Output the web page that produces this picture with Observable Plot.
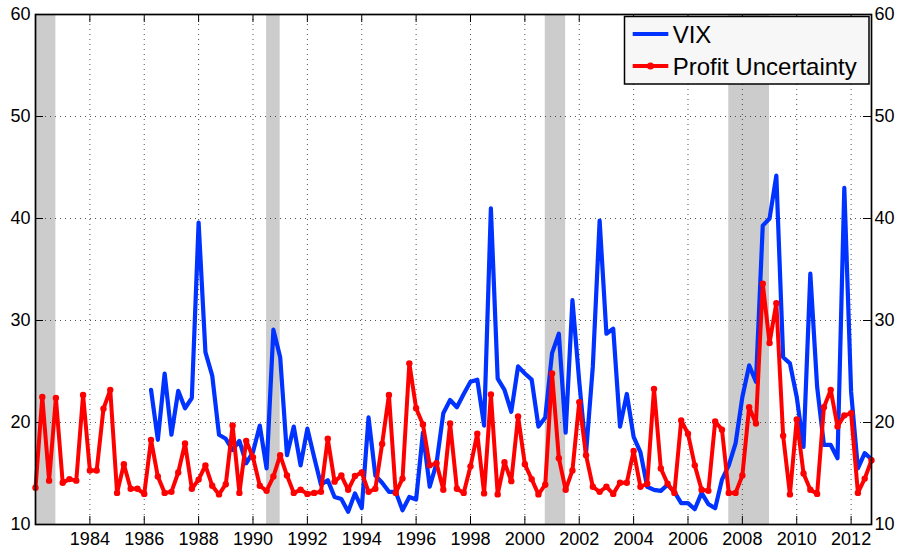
<!DOCTYPE html>
<html><head><meta charset="utf-8">
<script src="https://cdn.jsdelivr.net/npm/d3@7"></script>
<script src="https://cdn.jsdelivr.net/npm/@observablehq/plot@0.6"></script>
<style>
body{margin:0;background:#fff;}
#wrap{position:relative;width:900px;height:548px;font-family:"Liberation Sans",Arial,sans-serif;}
#wrap svg{display:block;}
#legend{position:absolute;left:0;top:0;pointer-events:none;}
</style></head><body><div id="wrap"></div>
<script>
// ---- data ----
const xDomain = [1982, 2012.75];
const yDomain = [10, 60];
const xTicks = [1984, 1986, 1988, 1990, 1992, 1994, 1996, 1998, 2000, 2002, 2004, 2006, 2008, 2010, 2012];
const yTicks = [10, 20, 30, 40, 50, 60];
const recessions = [[1982.0, 1982.75], [1990.5, 1991.0], [2000.75, 2001.5], [2007.5, 2009.0]];
const seriesNames = ["VIX", "Profit Uncertainty"];

// quarterly, starting 1982 Q1
const puStart = 1982.0;
const puValues = [
  13.6, 22.5, 14.3, 22.4,
  14.1, 14.45, 14.3, 22.7,
  15.3, 15.3, 21.35, 23.2,
  13.1, 15.9, 13.5, 13.5,
  13.0, 18.3, 14.7, 13.1,
  13.2, 15.1, 17.95, 13.5,
  14.4, 15.8, 13.8, 12.95,
  13.95, 19.7, 13.1, 18.2,
  16.6, 13.8, 13.3, 14.7,
  16.8, 14.8, 13.1, 13.4,
  13.0, 13.1, 13.2, 18.4,
  14.2, 14.8, 13.4, 14.75,
  15.1, 13.2, 13.5, 17.9,
  22.7, 13.1, 14.5, 25.8,
  21.4, 19.8, 15.8, 16.0,
  13.4, 19.9, 13.5, 13.1,
  15.7, 18.9, 13.05, 22.75,
  12.95, 16.1, 14.25, 20.6,
  15.9, 14.45, 12.95, 13.9,
  24.8, 16.5, 13.4, 15.3,
  22.0, 16.8, 13.7, 13.2,
  13.7, 13.0, 14.1, 14.1,
  17.2, 13.7, 14.0, 23.3,
  15.5, 14.0, 13.1, 20.2,
  18.9, 15.8, 13.4, 13.3,
  20.1, 19.3, 13.1, 13.1,
  14.8, 21.5, 19.9, 33.6,
  27.8, 31.7, 18.7, 12.95,
  20.3, 15.0, 13.4, 13.0,
  21.5, 23.2, 19.6, 20.7,
  20.9, 13.1, 14.5, 16.3
];

// quarterly, starting 1986 Q2
const vixStart = 1986.25;
const vixValues = [
  23.2, 18.3, 24.8,
  18.8, 23.1, 21.4, 22.4,
  39.6, 26.9, 24.6, 18.8,
  18.4, 17.3, 18.2, 16.0,
  17.1, 19.7, 15.5, 29.1,
  26.4, 16.8, 19.6, 15.8,
  19.4, 16.6, 13.9, 14.35,
  12.7, 12.5, 11.25, 13.05,
  11.6, 20.5, 14.8, 14.1,
  13.2, 13.2, 11.4, 12.7,
  12.45, 19.0, 13.7, 16.0,
  20.9, 22.2, 21.5, 22.8,
  24.0, 24.2, 19.7, 41.0,
  24.3, 23.2, 21.05, 25.5,
  24.8, 24.2, 19.6, 20.5,
  26.8, 28.7, 19.0, 32.0,
  24.0, 17.0, 25.5, 39.8,
  28.7, 29.2, 19.6, 22.8,
  18.6, 17.1, 13.7, 13.4,
  13.3, 13.9, 13.2, 12.1,
  12.1, 11.5, 13.1, 12.0,
  11.6, 14.4, 15.8, 17.95,
  22.5, 25.6, 24.0, 39.3,
  40.0, 44.2, 26.4, 25.8,
  22.5, 17.6, 34.6, 23.5,
  17.8, 17.8, 16.5, 43.0,
  23.0, 15.5, 17.0, 16.4
];

// ---- build ----
const pu = puValues.map((v, i) => ({t: puStart + i * 0.25, v}));
const vix = vixValues.map((v, i) => ({t: vixStart + i * 0.25, v}));

const W = 900, H = 548;
const mL = 35, mR = 29, mT = 14, mB = 24;
const frameW = W - mL - mR, frameH = H - mT - mB;
const tickLen = 8;
const blue = "#0033ff", red = "#ff0000";
const gridStyle = {stroke: "#333", strokeOpacity: 0.85, strokeDasharray: "1,4", strokeWidth: 1};

const chart = Plot.plot({
  width: W, height: H,
  marginLeft: mL, marginRight: mR, marginTop: mT, marginBottom: mB,
  style: {fontFamily: "'Liberation Sans', Arial, sans-serif", fontSize: "18px", background: "#fff", color: "#000", overflow: "visible"},
  x: {domain: xDomain, label: null},
  y: {domain: yDomain, label: null},
  marks: [
    Plot.rect(recessions, {x1: d => d[0], x2: d => d[1], fill: "#cccccc"}),
    Plot.gridX(xTicks, gridStyle),
    Plot.gridY(yTicks, gridStyle),
    Plot.tickX(xTicks, {x: d => d, insetTop: frameH - tickLen, stroke: "#000", strokeWidth: 1}),
    Plot.tickX(xTicks, {x: d => d, insetBottom: frameH - tickLen, stroke: "#000", strokeWidth: 1}),
    Plot.tickY(yTicks, {y: d => d, insetRight: frameW - tickLen, stroke: "#000", strokeWidth: 1}),
    Plot.tickY(yTicks, {y: d => d, insetLeft: frameW - tickLen, stroke: "#000", strokeWidth: 1}),
    Plot.axisX(xTicks, {anchor: "bottom", label: null, tickSize: 0, tickPadding: 8, tickFormat: d => String(d), fontSize: 18}),
    Plot.axisY(yTicks, {anchor: "left", label: null, tickSize: 0, tickPadding: 5, tickFormat: d => String(d), fontSize: 18}),
    Plot.axisY(yTicks, {anchor: "right", label: null, tickSize: 0, tickPadding: 3, tickFormat: d => String(d), fontSize: 18}),
    Plot.line(vix, {x: "t", y: "v", stroke: blue, strokeWidth: 4.2, strokeLinejoin: "round", strokeLinecap: "round"}),
    Plot.line(pu, {x: "t", y: "v", stroke: red, strokeWidth: 4, strokeLinejoin: "round", strokeLinecap: "round"}),
    Plot.dot(pu, {x: "t", y: "v", r: 3.2, fill: red, stroke: "none"}),
    Plot.frame({stroke: "#000", strokeWidth: 1.7})
  ]
});
const wrap = document.getElementById("wrap");
wrap.appendChild(chart);

// ---- legend (overlay) ----
const lg = d3.select(wrap).append("svg").attr("id", "legend").attr("width", W).attr("height", H);
const box = {x: 624.5, y: 16.5, w: 244.5, h: 67.5};
lg.append("rect").attr("x", box.x).attr("y", box.y).attr("width", box.w).attr("height", box.h)
  .attr("fill", "#f7f7f7").attr("stroke", "#000").attr("stroke-width", 1.5);
const items = [
  {name: seriesNames[0], color: blue, y: 34, ty: 43.3, marker: false},
  {name: seriesNames[1], color: red, y: 66, ty: 75.3, marker: true}
];
items.forEach(it => {
  lg.append("line").attr("x1", 632.7).attr("x2", 668.3).attr("y1", it.y).attr("y2", it.y)
    .attr("stroke", it.color).attr("stroke-width", 4.2);
  if (it.marker) lg.append("circle").attr("cx", 650.5).attr("cy", it.y).attr("r", 3.5).attr("fill", it.color);
  lg.append("text").attr("x", 672.7).attr("y", it.ty).text(it.name)
    .attr("font-family", "'Liberation Sans', Arial, sans-serif").attr("font-size", 24).attr("fill", "#000");
});
</script>
</body></html>
